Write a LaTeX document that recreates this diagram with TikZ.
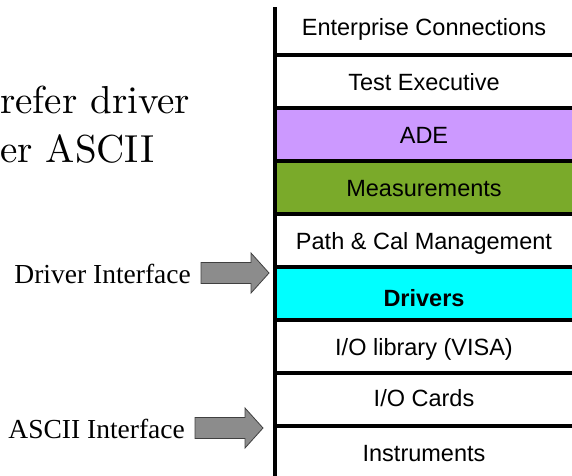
\documentclass[tikz,border=0pt]{standalone}
\usepackage{fontspec}
\newfontfamily\sansf{Liberation Sans}
\newfontfamily\seriff{Liberation Serif}
\newfontfamily\headf{lmroman10-regular}[Extension=.otf]
\definecolor{adepurple}{HTML}{CC99FF}
\definecolor{measgreen}{RGB}{122,170,42}
\definecolor{drvcyan}{HTML}{00FFFF}
\definecolor{arrowgray}{RGB}{140,140,140}
\tikzset{
  layer/.style={rectangle, inner sep=0pt, minimum width=296, minimum height=53,
    text height=17pt, text depth=0pt,
    font=\sansf\fontsize{23.5}{28}\selectfont},
  sepline/.style={line width=3.8pt},
  axisline/.style={line width=3.4pt},
  iflabel/.style={inner sep=0pt, font=\seriff\fontsize{27.5}{32}\selectfont},
  bigtext/.style={inner sep=0pt, font=\headf\fontsize{39}{49}\selectfont},
  pics/blockarrow/.style={code={
    \draw[fill=arrowgray, draw=black!75, line width=0.8pt]
      (0,0) -- (-18,-20) -- (-18,-10.5) -- (-68,-10.5) -- (-68,10.5)
      -- (-18,10.5) -- (-18,20) -- cycle;}}
}
\begin{document}
\begin{tikzpicture}[x=1pt,y=-1pt]
\useasboundingbox (0,0) rectangle (572,475);

% software stack layers, top to bottom
\node[layer] (ent)  at (424,28.5)  {\raisebox{2pt}{Enterprise Connections}};
\node[layer] (test) at (424,81.5)  {Test Executive};
\node[layer, fill=adepurple] (ade) at (424,134.5) {ADE};
\node[layer, fill=measgreen] (meas) at (424,187.5) {Measurements};
\node[layer] (path) at (424,240.5) {Path \& Cal Management};
\node[layer, fill=drvcyan] (drv) at (424,293.5) {\raisebox{-4pt}{\bfseries Drivers}};
\node[layer] (visa) at (424,346.5) {I/O library (VISA)};
\node[layer] (cards) at (424,399.5) {\raisebox{1.5pt}{I/O Cards}};
\node[layer] (inst) at (424,452.5) {Instruments};

% separators between layers
\foreach \n in {ent,test,ade,meas,path,drv,visa,cards}
  \draw[sepline] (\n.south west) -- (\n.south east);

% left edge of the stack
\coordinate (axtop) at (275,7);
\coordinate (axbot) at (275,476);
\draw[axisline] (axtop) -- (axbot);

% interface arrows
\coordinate (drvtip) at (269,273);
\coordinate (asctip) at (263,428);
\pic at (drvtip) {blockarrow};
\pic at (asctip) {blockarrow};

\node[iflabel, anchor=base east] (drvlbl) at (191,283) {Driver Interface};
\node[iflabel, anchor=base east] (asclbl) at (185,438) {ASCII Interface};

% heading text
\node[bigtext, anchor=base west] (head1) at (0,113) {refer driver};
\node[bigtext, anchor=base west] (head2) at (0,162) {er ASCII};
\end{tikzpicture}
\end{document}
